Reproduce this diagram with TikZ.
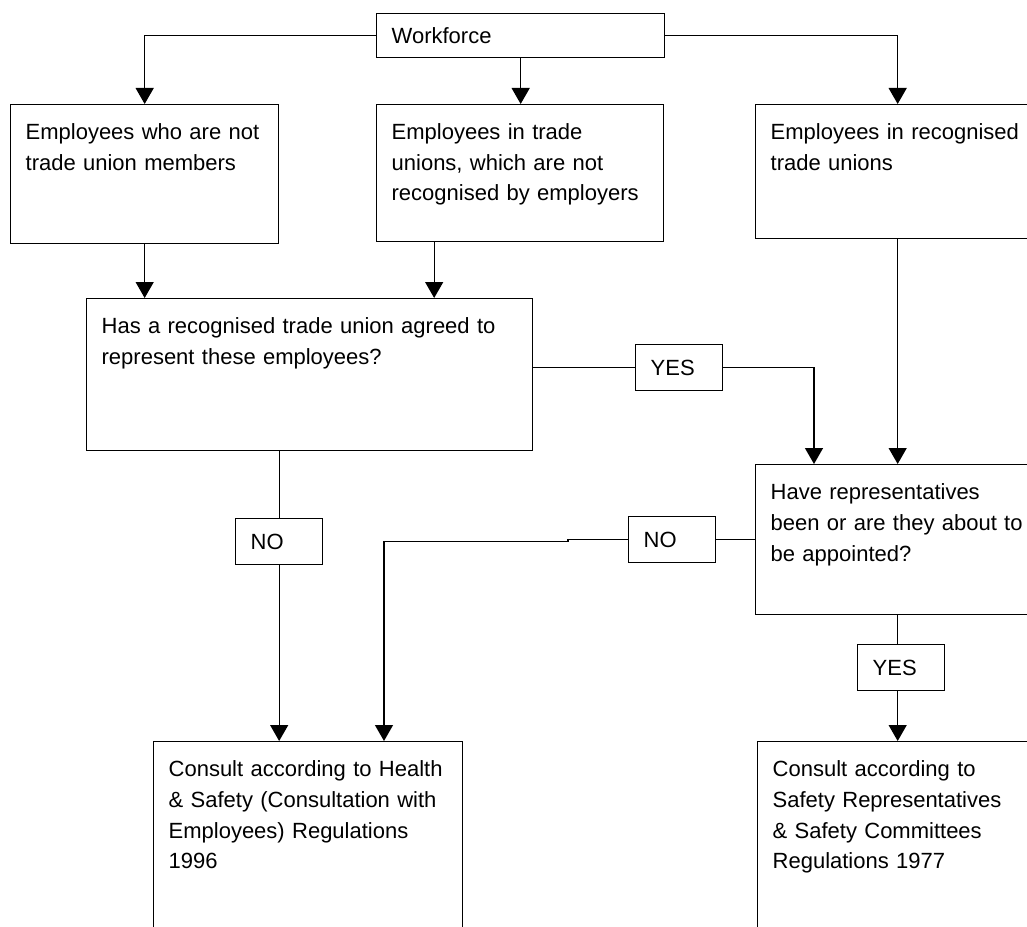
\documentclass[tikz,border=0pt]{standalone}
\usepackage{fontspec}
\setmainfont{Liberation Sans}
\usetikzlibrary{arrows.meta,calc}

\tikzset{every picture/.style={line width=1pt}}
\tikzset{
  flowbox/.style={draw, anchor=north west, align=left, inner xsep=11.25pt, inner ysep=0pt,
    text height=26.25pt, font=\fontsize{16.5pt}{23pt}\selectfont},
  tagbox/.style={draw, anchor=north west, align=left, inner xsep=11.25pt, inner ysep=0pt,
    text width=42.75pt, minimum height=34.5pt, font=\fontsize{16.5pt}{23pt}\selectfont},
  flowarrow/.style={-{Triangle[width=13.5pt,length=12pt]}}
}

\begin{document}
\begin{tikzpicture}[x=0.75pt,y=0.75pt,yscale=-1,xscale=1]
\useasboundingbox (0,0) rectangle (1027,927);
\clip (0,0) rectangle (1027,927);

%Boxes
\node [tagbox, text width=193.5pt, minimum height=33pt] (work) at (376,13) {Workforce};
\node [flowbox, text width=178.5pt, text depth=78pt] (empA) at (10,104) {Employees who are not\\trade union members};
\node [flowbox, text width=192.75pt, text depth=76.5pt] (empB) at (376,104) {Employees in trade\\unions, which are not\\recognised by employers};
\node [flowbox, text width=190.5pt, text depth=74.25pt] (empC) at (755,104) {Employees in recognised\\trade unions};
\node [flowbox, text width=312pt, text depth=87.75pt] (q1) at (86,298) {Has a recognised trade union agreed to\\represent these employees?};
\node [flowbox, text width=190.5pt, text depth=86.25pt] (q2) at (755,464) {Have representatives\\been or are they about to\\be appointed?};
\node [flowbox, text width=209.25pt, text depth=138.75pt] (consA) at (153,741) {Consult according to Health\\\& Safety (Consultation with\\Employees) Regulations\\1996};
\node [flowbox, text width=189pt, text depth=138.75pt] (consB) at (757,741) {Consult according to\\Safety Representatives\\\& Safety Committees\\Regulations 1977};

%Answer tags
\node [tagbox] (yesA) at (635,344) {YES};
\node [tagbox] (noA) at (235,518) {NO};
\node [tagbox] (noB) at (628,516) {NO};
\node [tagbox] (yesB) at (857,644) {YES};

%Connectors
\draw [flowarrow] (work.west) -| (empA.north);
\draw [flowarrow] (work.east) -| (empC.north);
\draw [flowarrow] (work.south) -- (work.south |- empB.north);
\draw [flowarrow] (empA.south) -- (empA.south |- q1.north);
\coordinate (empBout) at ($(empB.south)+(-86,0)$);
\draw [flowarrow] (empBout) -- (empBout |- q1.north);
\draw (q1.east |- yesA.west) -- (yesA.west);
\coordinate (yesAin) at ($(q2.north west)+(59,0)$);
\draw [flowarrow] (yesA.east) -| (yesAin);
\draw [flowarrow] (empC.south) -- (empC.south |- q2.north);
\draw (noA.north |- q1.south) -- (noA.north);
\draw [flowarrow] (noA.south) -- (noA.south |- consA.north);
\draw (q2.west) -- (noB.east);
\coordinate (jog) at (568,541.5);
\coordinate (turn) at (384,541.5);
\draw [flowarrow] (noB.west) -- (noB.west -| jog) -- (jog) -- (turn) -- (turn |- consA.north);
\draw (q2.south) -- (q2.south |- yesB.north);
\draw [flowarrow] (yesB.south -| q2.south) -- (q2.south |- consB.north);
\end{tikzpicture}
\end{document}
